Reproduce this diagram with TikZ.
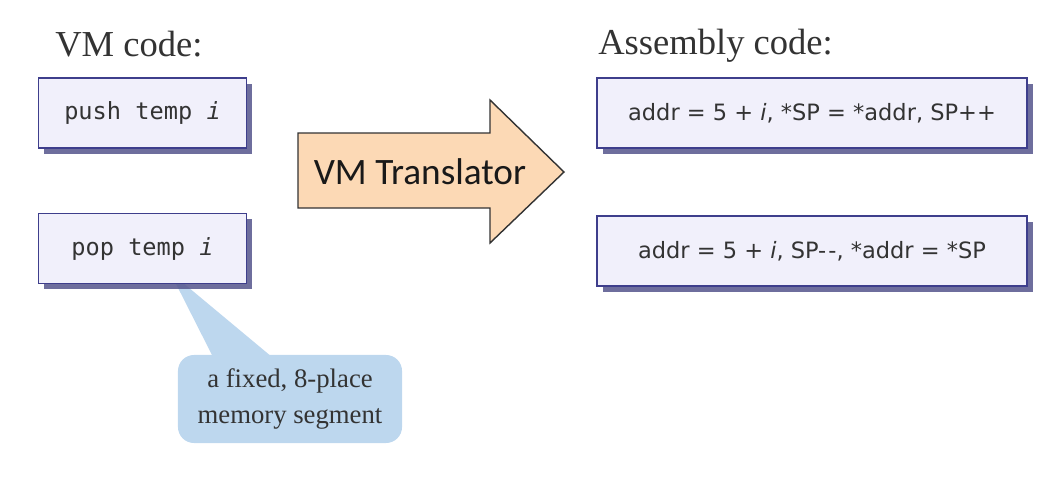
\documentclass[tikz,border=0pt]{standalone}
\usepackage{fontspec}
\setmainfont{Liberation Serif}
\newfontfamily\vmmono{DejaVu Sans Mono}
\newfontfamily\asmsans{DejaVu Sans}
\newfontfamily\arrowfont{Carlito}
\usetikzlibrary{shadows}

\definecolor{boxfill}{HTML}{F1F0FB}
\definecolor{boxline}{HTML}{3E3E8C}
\definecolor{boxshade}{HTML}{55558C}
\definecolor{arrowfill}{HTML}{FCD9B5}
\definecolor{notefill}{HTML}{BDD7EE}
\definecolor{inktext}{HTML}{333333}

\tikzset{
  codebox/.style={draw=boxline, fill=boxfill, line width=1.2pt,
    inner sep=0cm, text=inktext,
    drop shadow={shadow xshift=0.14cm, shadow yshift=-0.14cm,
      fill=boxshade, opacity=0.85}},
  vmbox/.style={codebox, minimum width=5.2cm, minimum height=1.75cm,
    font=\vmmono\fontsize{16.8}{20}\selectfont},
  asmbox/.style={codebox, minimum width=10.75cm, minimum height=1.75cm,
    font=\asmsans\fontsize{16}{20}\selectfont},
  heading/.style={anchor=west, inner sep=0cm, text=inktext,
    font=\fontsize{26}{30}\selectfont},
  notebox/.style={fill=notefill, rounded corners=0.4cm,
    minimum width=5.6cm, minimum height=2.2cm, inner sep=0cm,
    align=center, text=inktext, font=\fontsize{19}{25}\selectfont}
}

\begin{document}
\begin{tikzpicture}[x=0.025cm, y=-0.025cm]
\useasboundingbox (0,0) rectangle (1058,480);

% headings
\node[heading] (vmhead) at (55,44) {VM code:};
\node[heading] (asmhead) at (598,46) {Assembly code:};

% callout under the pop box
\coordinate (tip) at (170,272);
\node[notebox] (note) at (290,399) {a fixed, 8-place\\memory segment};
\fill[notefill] (tip) -- (213,357) -- (272,357) -- cycle;

% VM commands
\node[vmbox] (push) at (142.5,113) {push temp \textit{i}};
\node[vmbox] (pop) at (142.5,248.5) {pop temp \textit{i}};

% translator arrow
\draw[fill=arrowfill, draw=black!80, line width=1pt]
  (298,133) -- (490,133) -- (490,100) -- (564,172) -- (490,243)
  -- (490,208) -- (298,208) -- cycle;
\node[font=\arrowfont\fontsize{26.5}{30}\selectfont, text=black!90]
  (trans) at (420,172) {VM Translator};

% assembly
\node[asmbox] (asmpush) at (812,113)
  {addr = 5 + \textit{i}, *SP = *addr, SP++};
\node[asmbox] (asmpop) at (812,251)
  {addr = 5 + \textit{i}, SP-\kern1.5pt-, *addr = *SP};
\end{tikzpicture}
\end{document}
